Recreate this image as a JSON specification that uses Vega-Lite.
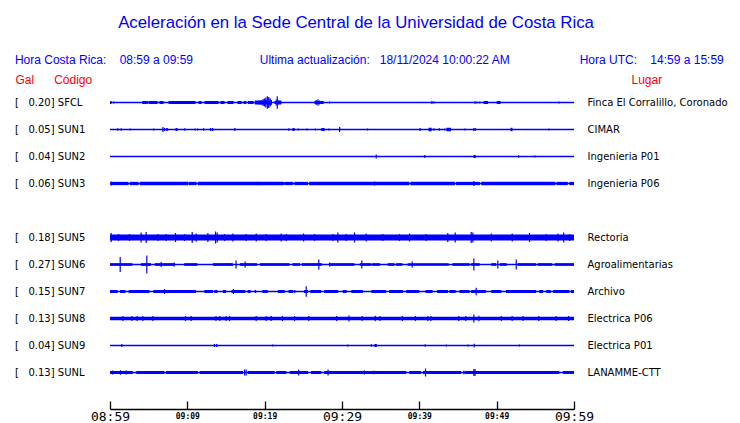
{
  "$schema": "https://vega.github.io/schema/vega-lite/v6.json",
  "width": 464,
  "height": 297,
  "autosize": {"type": "none"},
  "padding": {"left": 110, "top": 89, "right": 166, "bottom": 37},
  "background": "white",
  "config": {"view": {"stroke": null}},
  "title": {
    "text": "Aceleración en la Sede Central de la Universidad de Costa Rica",
    "subtitle": "\u200b\u00a0\u00a0\u00a0\u00a0\u00a0\u00a0\u00a0\u00a0Hora Costa Rica:\u00a0\u00a0\u00a0\u00a008:59 a 09:59\u00a0\u00a0\u00a0\u00a0\u00a0\u00a0\u00a0\u00a0\u00a0\u00a0\u00a0\u00a0\u00a0\u00a0\u00a0\u00a0\u00a0\u00a0\u00a0\u00a0Ultima actualización:\u00a0\u00a0\u00a018/11/2024 10:00:22 AM\u00a0\u00a0\u00a0\u00a0\u00a0\u00a0\u00a0\u00a0\u00a0\u00a0\u00a0\u00a0\u00a0\u00a0\u00a0\u00a0\u00a0\u00a0\u00a0\u00a0\u00a0Hora UTC:\u00a0\u00a0\u00a0\u00a014:59 a 15:59",
    "anchor": "middle",
    "frame": "group",
    "dx": 14,
    "font": "Liberation Sans",
    "fontSize": 16.8,
    "fontWeight": "normal",
    "color": "#0000ff",
    "subtitleFont": "Liberation Sans",
    "subtitleFontSize": 12,
    "subtitleColor": "#0000ff",
    "subtitlePadding": 23,
    "offset": 7
  },
  "datasets": {
    "st": [
      {"s": "SFCL", "g": 0.20, "lug": "Finca El Corralillo, Coronado", "w": 1.3},
      {"s": "SUN1", "g": 0.05, "lug": "CIMAR", "w": 1.5},
      {"s": "SUN2", "g": 0.04, "lug": "Ingenieria P01", "w": 1.5},
      {"s": "SUN3", "g": 0.06, "lug": "Ingenieria P06", "w": 1.5},
      {"s": "SUN5", "g": 0.18, "lug": "Rectoria", "w": 5.8},
      {"s": "SUN6", "g": 0.27, "lug": "Agroalimentarias", "w": 1.5},
      {"s": "SUN7", "g": 0.15, "lug": "Archivo", "w": 1.5},
      {"s": "SUN8", "g": 0.13, "lug": "Electrica P06", "w": 3.3},
      {"s": "SUN9", "g": 0.04, "lug": "Electrica P01", "w": 1.3},
      {"s": "SUNL", "g": 0.13, "lug": "LANAMME-CTT", "w": 1.5}
    ],
    "seg": [
      {"s": "SFCL", "t": 0, "t2": 0.2, "w": 3},
      {"s": "SFCL", "t": 4.17, "t2": 4.89, "w": 3},
      {"s": "SFCL", "t": 4.98, "t2": 6.14, "w": 3},
      {"s": "SFCL", "t": 6.4, "t2": 6.92, "w": 3},
      {"s": "SFCL", "t": 7.57, "t2": 11.06, "w": 3},
      {"s": "SFCL", "t": 11.45, "t2": 11.84, "w": 3},
      {"s": "SFCL", "t": 12.22, "t2": 14.04, "w": 3},
      {"s": "SFCL", "t": 14.29, "t2": 14.81, "w": 3},
      {"s": "SFCL", "t": 15.2, "t2": 15.98, "w": 3},
      {"s": "SFCL", "t": 16.49, "t2": 17.01, "w": 3},
      {"s": "SFCL", "t": 17.27, "t2": 17.62, "w": 3},
      {"s": "SFCL", "t": 17.83, "t2": 18.56, "w": 3},
      {"s": "SFCL", "t": 18.73, "t2": 20.9, "w": 4},
      {"s": "SFCL", "t": 21.28, "t2": 22.15, "w": 3},
      {"s": "SFCL", "t": 26.45, "t2": 27.62, "w": 3},
      {"s": "SFCL", "t": 48.3, "t2": 48.9, "w": 3},
      {"s": "SFCL", "t": 50.0, "t2": 50.5, "w": 3},
      {"s": "SUN1", "t": 7.27, "t2": 7.48, "w": 3},
      {"s": "SUN1", "t": 8.47, "t2": 8.73, "w": 3},
      {"s": "SUN1", "t": 23.6, "t2": 23.87, "w": 3},
      {"s": "SUN1", "t": 27.32, "t2": 27.75, "w": 3},
      {"s": "SUN1", "t": 41.2, "t2": 41.6, "w": 3.5},
      {"s": "SUN1", "t": 43.5, "t2": 44.1, "w": 3.5},
      {"s": "SUN1", "t": 51.8, "t2": 52.05, "w": 3.5},
      {"s": "SUN2", "t": 47.0, "t2": 47.3, "w": 3},
      {"s": "SUN3", "t": 0.05, "t2": 2.4, "w": 3.3},
      {"s": "SUN3", "t": 2.55, "t2": 3.7, "w": 3.3},
      {"s": "SUN3", "t": 3.85, "t2": 10.05, "w": 3.3},
      {"s": "SUN3", "t": 10.2, "t2": 11.2, "w": 3.3},
      {"s": "SUN3", "t": 11.35, "t2": 22.4, "w": 3.3},
      {"s": "SUN3", "t": 22.55, "t2": 23.7, "w": 3.3},
      {"s": "SUN3", "t": 23.85, "t2": 25.6, "w": 3.3},
      {"s": "SUN3", "t": 25.75, "t2": 38.7, "w": 3.3},
      {"s": "SUN3", "t": 38.85, "t2": 44.6, "w": 3.3},
      {"s": "SUN3", "t": 44.75, "t2": 47.85, "w": 3.3},
      {"s": "SUN3", "t": 48.0, "t2": 57.6, "w": 3.3},
      {"s": "SUN3", "t": 57.75, "t2": 59.2, "w": 3.3},
      {"s": "SUN3", "t": 59.4, "t2": 60, "w": 3.3},
      {"s": "SUN6", "t": 0, "t2": 2.9, "w": 2.7},
      {"s": "SUN6", "t": 4.0, "t2": 5.3, "w": 2.7},
      {"s": "SUN6", "t": 5.8, "t2": 8.4, "w": 2.7},
      {"s": "SUN6", "t": 9.6, "t2": 11.3, "w": 2.7},
      {"s": "SUN6", "t": 13.3, "t2": 15.9, "w": 2.7},
      {"s": "SUN6", "t": 16.8, "t2": 19.0, "w": 2.7},
      {"s": "SUN6", "t": 19.4, "t2": 23.2, "w": 2.7},
      {"s": "SUN6", "t": 23.6, "t2": 24.4, "w": 2.7},
      {"s": "SUN6", "t": 24.8, "t2": 27.4, "w": 2.7},
      {"s": "SUN6", "t": 28.3, "t2": 31.6, "w": 2.7},
      {"s": "SUN6", "t": 32.3, "t2": 33.8, "w": 2.7},
      {"s": "SUN6", "t": 33.9, "t2": 34.9, "w": 2.7},
      {"s": "SUN6", "t": 35.9, "t2": 36.8, "w": 2.7},
      {"s": "SUN6", "t": 37.0, "t2": 37.8, "w": 2.7},
      {"s": "SUN6", "t": 38.5, "t2": 43.8, "w": 2.7},
      {"s": "SUN6", "t": 44.3, "t2": 46.5, "w": 2.7},
      {"s": "SUN6", "t": 46.7, "t2": 47.8, "w": 2.7},
      {"s": "SUN6", "t": 49.3, "t2": 49.95, "w": 2.7},
      {"s": "SUN6", "t": 50.4, "t2": 51.3, "w": 2.7},
      {"s": "SUN6", "t": 52.7, "t2": 55.1, "w": 2.7},
      {"s": "SUN6", "t": 55.3, "t2": 57.2, "w": 2.7},
      {"s": "SUN6", "t": 57.5, "t2": 60, "w": 2.7},
      {"s": "SUN7", "t": 0, "t2": 1, "w": 3},
      {"s": "SUN7", "t": 1.3, "t2": 2.0, "w": 3},
      {"s": "SUN7", "t": 2.4, "t2": 5.1, "w": 3},
      {"s": "SUN7", "t": 5.6, "t2": 11.1, "w": 3},
      {"s": "SUN7", "t": 12.2, "t2": 13.3, "w": 3},
      {"s": "SUN7", "t": 13.5, "t2": 13.9, "w": 3},
      {"s": "SUN7", "t": 14.6, "t2": 15.0, "w": 3},
      {"s": "SUN7", "t": 15.7, "t2": 17.5, "w": 3},
      {"s": "SUN7", "t": 17.8, "t2": 18.2, "w": 3},
      {"s": "SUN7", "t": 18.7, "t2": 18.9, "w": 3},
      {"s": "SUN7", "t": 19.7, "t2": 20.4, "w": 3},
      {"s": "SUN7", "t": 21.7, "t2": 22.6, "w": 3},
      {"s": "SUN7", "t": 23.1, "t2": 23.7, "w": 3},
      {"s": "SUN7", "t": 25.1, "t2": 25.6, "w": 3},
      {"s": "SUN7", "t": 25.9, "t2": 27.3, "w": 3},
      {"s": "SUN7", "t": 27.7, "t2": 29.5, "w": 3},
      {"s": "SUN7", "t": 30.1, "t2": 30.6, "w": 3},
      {"s": "SUN7", "t": 31.2, "t2": 32.7, "w": 3},
      {"s": "SUN7", "t": 33.8, "t2": 35.7, "w": 3},
      {"s": "SUN7", "t": 36.1, "t2": 37.9, "w": 3},
      {"s": "SUN7", "t": 38.3, "t2": 40.0, "w": 3},
      {"s": "SUN7", "t": 40.8, "t2": 41.7, "w": 3},
      {"s": "SUN7", "t": 42.3, "t2": 43.7, "w": 3},
      {"s": "SUN7", "t": 43.9, "t2": 44.7, "w": 3},
      {"s": "SUN7", "t": 45.2, "t2": 46.5, "w": 3},
      {"s": "SUN7", "t": 46.7, "t2": 48.6, "w": 3},
      {"s": "SUN7", "t": 49.3, "t2": 50.6, "w": 3},
      {"s": "SUN7", "t": 51.2, "t2": 55.1, "w": 3},
      {"s": "SUN7", "t": 55.5, "t2": 56.0, "w": 3},
      {"s": "SUN7", "t": 56.4, "t2": 57.0, "w": 3},
      {"s": "SUN7", "t": 57.3, "t2": 59.4, "w": 3},
      {"s": "SUN7", "t": 59.6, "t2": 60, "w": 3},
      {"s": "SUN9", "t": 34.2, "t2": 34.5, "w": 3},
      {"s": "SUNL", "t": 0, "t2": 2.95, "w": 3},
      {"s": "SUNL", "t": 3.4, "t2": 7.05, "w": 3},
      {"s": "SUNL", "t": 7.25, "t2": 11.35, "w": 3},
      {"s": "SUNL", "t": 11.6, "t2": 17.2, "w": 3},
      {"s": "SUNL", "t": 17.8, "t2": 21.3, "w": 3},
      {"s": "SUNL", "t": 21.5, "t2": 22.8, "w": 3},
      {"s": "SUNL", "t": 23.4, "t2": 25.6, "w": 3},
      {"s": "SUNL", "t": 26.0, "t2": 27.3, "w": 3},
      {"s": "SUNL", "t": 27.7, "t2": 38.3, "w": 3},
      {"s": "SUNL", "t": 38.7, "t2": 40.2, "w": 3},
      {"s": "SUNL", "t": 40.45, "t2": 45.4, "w": 3},
      {"s": "SUNL", "t": 45.85, "t2": 58.1, "w": 3},
      {"s": "SUNL", "t": 58.55, "t2": 60, "w": 3}
    ],
    "spk": [
      {"s": "SFCL", "t": 0.5, "a": 2}, {"s": "SFCL", "t": 18.26, "a": 1.5}, {"s": "SFCL", "t": 18.9, "a": 3},
      {"s": "SFCL", "t": 19.2, "a": 4}, {"s": "SFCL", "t": 19.56, "a": 5}, {"s": "SFCL", "t": 19.8, "a": 7},
      {"s": "SFCL", "t": 19.99, "a": 8}, {"s": "SFCL", "t": 20.15, "a": 10}, {"s": "SFCL", "t": 20.34, "a": 12.7},
      {"s": "SFCL", "t": 20.45, "a": 10}, {"s": "SFCL", "t": 20.55, "a": 11}, {"s": "SFCL", "t": 20.72, "a": 8},
      {"s": "SFCL", "t": 20.85, "a": 5}, {"s": "SFCL", "t": 21.5, "a": 6}, {"s": "SFCL", "t": 21.63, "a": 12.3},
      {"s": "SFCL", "t": 21.84, "a": 5}, {"s": "SFCL", "t": 22.06, "a": 4}, {"s": "SFCL", "t": 26.67, "a": 5},
      {"s": "SFCL", "t": 26.9, "a": 6.7}, {"s": "SFCL", "t": 27.1, "a": 4}, {"s": "SFCL", "t": 28.4, "a": 2},
      {"s": "SFCL", "t": 41.63, "a": 3}, {"s": "SFCL", "t": 41.9, "a": 2}, {"s": "SFCL", "t": 47.2, "a": 2.5},
      {"s": "SFCL", "t": 47.45, "a": 2}, {"s": "SFCL", "t": 47.8, "a": 2}, {"s": "SFCL", "t": 58.04, "a": 2},
      {"s": "SUN1", "t": 1.01, "a": 2.5}, {"s": "SUN1", "t": 1.45, "a": 2.5}, {"s": "SUN1", "t": 2.61, "a": 2},
      {"s": "SUN1", "t": 5.66, "a": 2}, {"s": "SUN1", "t": 6.85, "a": 5}, {"s": "SUN1", "t": 7.05, "a": 3},
      {"s": "SUN1", "t": 9.67, "a": 2.5}, {"s": "SUN1", "t": 11.02, "a": 2}, {"s": "SUN1", "t": 11.32, "a": 2},
      {"s": "SUN1", "t": 12.1, "a": 2.5}, {"s": "SUN1", "t": 13.0, "a": 3}, {"s": "SUN1", "t": 13.26, "a": 3},
      {"s": "SUN1", "t": 16.14, "a": 3}, {"s": "SUN1", "t": 23.13, "a": 2.5}, {"s": "SUN1", "t": 24.35, "a": 2},
      {"s": "SUN1", "t": 25.46, "a": 2}, {"s": "SUN1", "t": 26.55, "a": 2}, {"s": "SUN1", "t": 28.3, "a": 2},
      {"s": "SUN1", "t": 29.69, "a": 5}, {"s": "SUN1", "t": 33.3, "a": 2}, {"s": "SUN1", "t": 40.1, "a": 3},
      {"s": "SUN1", "t": 41.88, "a": 2.5}, {"s": "SUN1", "t": 42.58, "a": 2.5}, {"s": "SUN1", "t": 43.3, "a": 2},
      {"s": "SUN1", "t": 45.9, "a": 2}, {"s": "SUN1", "t": 47.05, "a": 3}, {"s": "SUN1", "t": 47.23, "a": 3},
      {"s": "SUN1", "t": 56.75, "a": 2},
      {"s": "SUN2", "t": 34.43, "a": 4}, {"s": "SUN2", "t": 40.71, "a": 3}, {"s": "SUN2", "t": 52.84, "a": 2.5},
      {"s": "SUN2", "t": 54.95, "a": 2},
      {"s": "SUN3", "t": 0.15, "a": 4}, {"s": "SUN3", "t": 10.06, "a": 3.5}, {"s": "SUN3", "t": 19.08, "a": 3.5},
      {"s": "SUN3", "t": 22.45, "a": 3}, {"s": "SUN3", "t": 24.2, "a": 3}, {"s": "SUN3", "t": 34.2, "a": 4},
      {"s": "SUN3", "t": 47.05, "a": 5}, {"s": "SUN3", "t": 57.0, "a": 3},
      {"s": "SUN5", "t": 0.15, "a": 9}, {"s": "SUN5", "t": 1.1, "a": 7}, {"s": "SUN5", "t": 2.52, "a": 7},
      {"s": "SUN5", "t": 4.03, "a": 10}, {"s": "SUN5", "t": 4.68, "a": 11}, {"s": "SUN5", "t": 6.19, "a": 7},
      {"s": "SUN5", "t": 7.27, "a": 7}, {"s": "SUN5", "t": 8.47, "a": 9}, {"s": "SUN5", "t": 9.64, "a": 7},
      {"s": "SUN5", "t": 10.63, "a": 11}, {"s": "SUN5", "t": 11.15, "a": 8}, {"s": "SUN5", "t": 12.66, "a": 9},
      {"s": "SUN5", "t": 13.65, "a": 12}, {"s": "SUN5", "t": 13.87, "a": 10}, {"s": "SUN5", "t": 14.81, "a": 7},
      {"s": "SUN5", "t": 15.89, "a": 8}, {"s": "SUN5", "t": 17.62, "a": 7}, {"s": "SUN5", "t": 18.91, "a": 8},
      {"s": "SUN5", "t": 20.2, "a": 7}, {"s": "SUN5", "t": 22.14, "a": 8}, {"s": "SUN5", "t": 22.79, "a": 7},
      {"s": "SUN5", "t": 25.03, "a": 8}, {"s": "SUN5", "t": 26.45, "a": 7}, {"s": "SUN5", "t": 28.82, "a": 7},
      {"s": "SUN5", "t": 29.46, "a": 10}, {"s": "SUN5", "t": 30.55, "a": 7}, {"s": "SUN5", "t": 31.62, "a": 10},
      {"s": "SUN5", "t": 33.13, "a": 8}, {"s": "SUN5", "t": 35.28, "a": 7}, {"s": "SUN5", "t": 37.44, "a": 7},
      {"s": "SUN5", "t": 38.73, "a": 8}, {"s": "SUN5", "t": 40.89, "a": 7}, {"s": "SUN5", "t": 43.68, "a": 9},
      {"s": "SUN5", "t": 44.64, "a": 10}, {"s": "SUN5", "t": 46.71, "a": 11}, {"s": "SUN5", "t": 46.92, "a": 10},
      {"s": "SUN5", "t": 49.3, "a": 8}, {"s": "SUN5", "t": 52.01, "a": 8}, {"s": "SUN5", "t": 54.25, "a": 9},
      {"s": "SUN5", "t": 56.41, "a": 7}, {"s": "SUN5", "t": 57.92, "a": 8}, {"s": "SUN5", "t": 58.66, "a": 10},
      {"s": "SUN5", "t": 59.44, "a": 7},
      {"s": "SUN6", "t": 1.32, "a": 15}, {"s": "SUN6", "t": 4.76, "a": 18}, {"s": "SUN6", "t": 6.62, "a": 5},
      {"s": "SUN6", "t": 8.3, "a": 4}, {"s": "SUN6", "t": 15.1, "a": 3}, {"s": "SUN6", "t": 16.3, "a": 8},
      {"s": "SUN6", "t": 17.48, "a": 6}, {"s": "SUN6", "t": 24.5, "a": 3}, {"s": "SUN6", "t": 27.0, "a": 10},
      {"s": "SUN6", "t": 28.4, "a": 4}, {"s": "SUN6", "t": 32.56, "a": 8}, {"s": "SUN6", "t": 39.08, "a": 6},
      {"s": "SUN6", "t": 47.05, "a": 12}, {"s": "SUN6", "t": 50.15, "a": 8}, {"s": "SUN6", "t": 52.53, "a": 10},
      {"s": "SUN7", "t": 7.05, "a": 5}, {"s": "SUN7", "t": 15.97, "a": 5}, {"s": "SUN7", "t": 23.9, "a": 3},
      {"s": "SUN7", "t": 25.37, "a": 10.5}, {"s": "SUN7", "t": 37.4, "a": 3}, {"s": "SUN7", "t": 47.35, "a": 7.5},
      {"s": "SUN7", "t": 54.2, "a": 3},
      {"s": "SUN8", "t": 1.66, "a": 5}, {"s": "SUN8", "t": 2.82, "a": 5}, {"s": "SUN8", "t": 3.5, "a": 5},
      {"s": "SUN8", "t": 4.24, "a": 5}, {"s": "SUN8", "t": 5.54, "a": 5}, {"s": "SUN8", "t": 9.76, "a": 5},
      {"s": "SUN8", "t": 10.5, "a": 5}, {"s": "SUN8", "t": 13.7, "a": 5}, {"s": "SUN8", "t": 14.2, "a": 5},
      {"s": "SUN8", "t": 15.0, "a": 5}, {"s": "SUN8", "t": 15.45, "a": 5}, {"s": "SUN8", "t": 18.9, "a": 5},
      {"s": "SUN8", "t": 20.2, "a": 5}, {"s": "SUN8", "t": 20.85, "a": 5}, {"s": "SUN8", "t": 22.3, "a": 5},
      {"s": "SUN8", "t": 23.86, "a": 5}, {"s": "SUN8", "t": 25.7, "a": 5}, {"s": "SUN8", "t": 29.3, "a": 5},
      {"s": "SUN8", "t": 30.9, "a": 6}, {"s": "SUN8", "t": 32.6, "a": 5}, {"s": "SUN8", "t": 34.3, "a": 5.5},
      {"s": "SUN8", "t": 34.9, "a": 5}, {"s": "SUN8", "t": 37.8, "a": 5}, {"s": "SUN8", "t": 39.5, "a": 5},
      {"s": "SUN8", "t": 41.1, "a": 5}, {"s": "SUN8", "t": 41.5, "a": 5}, {"s": "SUN8", "t": 45.1, "a": 5},
      {"s": "SUN8", "t": 46.0, "a": 5}, {"s": "SUN8", "t": 47.05, "a": 8}, {"s": "SUN8", "t": 47.7, "a": 5.5},
      {"s": "SUN8", "t": 50.6, "a": 5}, {"s": "SUN8", "t": 52.0, "a": 5}, {"s": "SUN8", "t": 53.4, "a": 5},
      {"s": "SUN8", "t": 55.45, "a": 5}, {"s": "SUN8", "t": 57.7, "a": 5}, {"s": "SUN8", "t": 59.3, "a": 5},
      {"s": "SUN9", "t": 1.53, "a": 3}, {"s": "SUN9", "t": 13.5, "a": 3}, {"s": "SUN9", "t": 13.8, "a": 3},
      {"s": "SUN9", "t": 21.05, "a": 2}, {"s": "SUN9", "t": 30.75, "a": 2}, {"s": "SUN9", "t": 33.8, "a": 2.5},
      {"s": "SUN9", "t": 40.76, "a": 2.5}, {"s": "SUN9", "t": 43.5, "a": 2}, {"s": "SUN9", "t": 46.3, "a": 2},
      {"s": "SUN9", "t": 47.1, "a": 3.5}, {"s": "SUN9", "t": 52.95, "a": 2},
      {"s": "SUNL", "t": 0.36, "a": 4}, {"s": "SUNL", "t": 1.36, "a": 4.5}, {"s": "SUNL", "t": 2.1, "a": 4},
      {"s": "SUNL", "t": 13.0, "a": 3}, {"s": "SUNL", "t": 17.4, "a": 6}, {"s": "SUNL", "t": 17.6, "a": 6},
      {"s": "SUNL", "t": 19.4, "a": 3}, {"s": "SUNL", "t": 23.3, "a": 3}, {"s": "SUNL", "t": 24.4, "a": 6},
      {"s": "SUNL", "t": 28.2, "a": 6}, {"s": "SUNL", "t": 32.9, "a": 4}, {"s": "SUNL", "t": 34.1, "a": 3.5},
      {"s": "SUNL", "t": 35.1, "a": 3}, {"s": "SUNL", "t": 38.95, "a": 3}, {"s": "SUNL", "t": 40.8, "a": 8},
      {"s": "SUNL", "t": 45.75, "a": 3.5}, {"s": "SUNL", "t": 47.05, "a": 7}, {"s": "SUNL", "t": 47.2, "a": 7},
      {"s": "SUNL", "t": 49.85, "a": 3}, {"s": "SUNL", "t": 51.7, "a": 3}
    ]
  },
  "layer": [
    {
      "data": {"name": "st"},
      "mark": {"type": "rule", "color": "#0000ff", "strokeCap": "butt"},
      "encoding": {
        "x": {"datum": 0, "type": "quantitative", "scale": {"domain": [0, 60], "nice": false, "zero": false},
          "axis": {
            "values": [0, 5, 10, 15, 20, 25, 30, 35, 40, 45, 50, 55, 60],
            "labelExpr": "datum.value % 10 === 0 ? timeFormat(datetime(2024, 10, 18, 8, 59 + datum.value), '%H:%M') : ''",
            "labelFlush": false,
            "labelOverlap": false,
            "tickSize": -8,
            "tickColor": "black",
            "tickWidth": 1.3,
            "domainColor": "black",
            "domainWidth": 1.3,
            "labelColor": "black",
            "labelFont": "DejaVu Sans Mono",
            "labelFontSize": {"condition": {"test": "datum.value % 30 === 0", "value": 13}, "value": 8},
            "labelFontWeight": {"condition": {"test": "datum.value % 30 === 0", "value": "normal"}, "value": "bold"},
            "labelBaseline": "middle",
            "labelPadding": 15,
            "offset": 23,
            "grid": false,
            "title": null
          }},
        "x2": {"datum": 60},
        "y": {"field": "s", "type": "nominal", "axis": null,
          "scale": {"type": "point", "padding": 0.5, "domain": ["SFCL", "SUN1", "SUN2", "SUN3", "SUN4", "SUN5", "SUN6", "SUN7", "SUN8", "SUN9", "SUNL"]}},
        "strokeWidth": {"field": "w", "type": "quantitative", "scale": {"domain": [0, 10], "range": [0, 10]}, "legend": null}
      }
    },
    {
      "data": {"name": "seg"},
      "mark": {"type": "rule", "color": "#0000ff", "strokeCap": "butt"},
      "encoding": {
        "x": {"field": "t", "type": "quantitative"},
        "x2": {"field": "t2"},
        "y": {"field": "s", "type": "nominal", "axis": null},
        "strokeWidth": {"field": "w", "type": "quantitative", "legend": null}
      }
    },
    {
      "data": {"name": "spk"},
      "mark": {"type": "tick", "color": "#0000ff", "orient": "vertical", "thickness": 1.2, "opacity": 1},
      "encoding": {
        "x": {"field": "t", "type": "quantitative"},
        "y": {"field": "s", "type": "nominal", "axis": null},
        "size": {"field": "a", "type": "quantitative", "scale": {"domain": [0, 20], "range": [0, 20]}, "legend": null}
      }
    },
    {
      "data": {"name": "st"},
      "transform": [{"calculate": "'[\u00a0\u00a0\u00a0' + format(datum.g, '.2f') + '] ' + datum.s", "as": "lab"}],
      "mark": {"type": "text", "align": "left", "baseline": "middle", "dx": -95, "font": "DejaVu Sans", "fontSize": 10, "color": "black"},
      "encoding": {
        "x": {"datum": 0, "type": "quantitative"},
        "y": {"field": "s", "type": "nominal",
          "axis": {"orient": "left", "labels": false, "ticks": false, "domain": false, "grid": false,
            "title": "Gal\u00a0\u00a0\u00a0\u00a0\u00a0\u00a0Código", "titleAngle": 0, "titleAlign": "left", "titleBaseline": "middle",
            "titleX": -95, "titleY": -10, "titleColor": "#ff0000", "titleFont": "Liberation Sans", "titleFontSize": 12, "titleFontWeight": "normal"}},
        "text": {"field": "lab"}
      }
    },
    {
      "data": {"name": "st"},
      "mark": {"type": "text", "align": "left", "baseline": "middle", "dx": 13.5, "font": "DejaVu Sans", "fontSize": 10, "color": "black"},
      "encoding": {
        "x": {"datum": 60, "type": "quantitative"},
        "y": {"field": "s", "type": "nominal",
          "axis": {"orient": "right", "labels": false, "ticks": false, "domain": false, "grid": false,
            "title": "Lugar", "titleAngle": 0, "titleAlign": "left", "titleBaseline": "middle",
            "titleX": 57, "titleY": -10, "titleColor": "#ff0000", "titleFont": "Liberation Sans", "titleFontSize": 12, "titleFontWeight": "normal"}},
        "text": {"field": "lug"}
      }
    }
  ],
  "resolve": {"axis": {"y": "independent"}}
}
